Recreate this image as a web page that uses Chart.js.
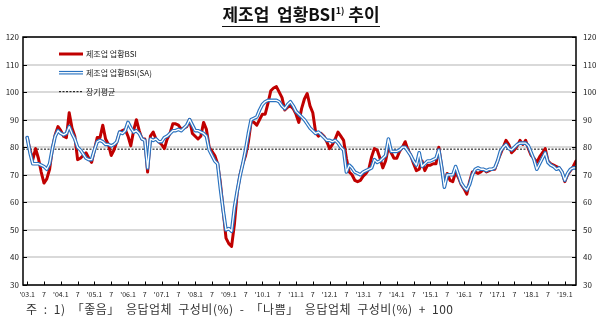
<!DOCTYPE html>
<html>
<head>
<meta charset="utf-8">
<script src="https://cdn.jsdelivr.net/npm/chart.js@4.4.1/dist/chart.umd.min.js"></script>
<style>
  body { margin: 0; background: #fff; }
  #wrap { position: relative; width: 602px; height: 322px; }
  #title { position: absolute; left: 0; top: 1px; width: 602px; text-align: center;
           font: bold 17px 'Noto Sans CJK KR'; color: #111; }
  #title span { border-bottom: 1.5px solid #111; padding-bottom: 0; }
  #title sup { font-size: 9px; }
  #note { position: absolute; left: 26px; top: 300px; font: 12px 'Noto Sans CJK KR'; color: #333;
          word-spacing: 3px; letter-spacing: 0.5px; }
</style>
</head>
<body>
<div id="wrap">
  <canvas id="bsiChart" width="602" height="322"></canvas>
  <div id="title"><span>제조업&nbsp; 업황BSI<sup>1)</sup> 추이</span></div>
  <div id="note">주 : 1) 「좋음」 응답업체 구성비(%) - 「나쁨」 응답업체 구성비(%) + 100</div>
</div>
<script>
// monthly, 2003.1 ~ 2019.5
var bsi = [
  83.5, 79, 75.5, 79.5, 76, 71, 67, 68.5, 72, 79.5, 84.5, 87.5,      // 2003
  86, 84, 83.5, 92.5, 87, 84, 75.5, 76, 77, 78, 76, 74.5,            // 2004
  79, 83.5, 83.5, 88, 83, 81, 77, 79, 82, 85.5, 86, 86.5,            // 2005
  84, 80.5, 86, 90, 86, 83, 83, 71, 84, 85.5, 83, 82,                // 2006
  81, 79.5, 83, 85, 88.5, 88.5, 88, 86.5, 87, 87.5, 90, 85,          // 2007
  84, 83, 84, 89, 86.5, 80, 78.5, 77, 74, 67, 57, 47,                // 2008
  45, 44, 52, 63.5, 70, 74, 77, 82, 89.5, 89, 88, 90,                // 2009
  92, 92, 96, 100.5, 101.5, 102, 100, 98, 93.5, 94.5, 95, 94,        // 2010
  92, 89, 94, 97.5, 99.5, 95, 92.5, 85.5, 84, 85, 84, 82,            // 2011
  79.5, 81, 83, 85.5, 84, 82.5, 76, 71, 70, 68, 67.5, 68,            // 2012
  69.5, 70.5, 72, 76.5, 79.5, 79, 76, 72.5, 75, 80, 78, 76,          // 2013
  76, 78.5, 80, 82, 79, 77, 74, 71.5, 72, 75, 71.5, 73.5,            // 2014
  73.5, 74, 74, 80, 73, 66, 70.5, 68, 67.5, 71, 69, 66.5,            // 2015
  65, 63, 67.5, 71, 71, 70.5, 71, 72, 71, 71.5, 72, 72,              // 2016
  75, 77.5, 80, 82.5, 81, 78, 79, 80.5, 82.5, 81, 82.5, 79.5,        // 2017
  77, 76, 74.5, 76.5, 78, 79.5, 75, 74, 73.5, 73, 72.5, 71,          // 2018
  67.5, 70, 71.5, 73, 75                                             // 2019
];

// seasonally adjusted
var bsiSA = [
  83.5, 78, 74, 74, 74, 73.5, 73, 72, 74, 79.5, 84, 86,
  85, 84.5, 85, 87.5, 85, 83, 80, 79, 77.5, 76, 75.5, 75.5,
  79, 82, 82.5, 82, 81, 81, 80.5, 81, 82, 85.5, 85, 86,
  89, 87, 85.5, 86, 85, 83, 82.5, 72.5, 83, 82.5, 83, 82,
  82, 83.5, 84, 85, 86, 86, 86.5, 86, 87, 88, 90, 88,
  86, 86, 85.5, 85, 84, 79, 77, 75, 74, 65, 57, 50,
  50.5, 49.5, 58, 64, 69.5, 74, 79, 85, 90, 90.5, 91, 93.5,
  95.5, 96.5, 97, 97, 97, 97, 96.5, 95, 94, 95.5, 96.5, 95,
  93, 92, 91, 90, 88.5, 87, 86, 85, 85.5, 84.5, 83.5, 82.5,
  82.5, 82, 82.5, 81.5, 80, 79, 71, 73.5, 72.5, 71, 70.5, 70,
  71, 71.5, 72, 72.5, 75.5, 74.5, 75, 76, 77, 83, 78.5, 78.5,
  78.5, 79, 80, 80, 78.5, 77, 75, 73.5, 78, 73, 74, 75,
  75, 75.5, 76, 79, 73, 65.5, 70, 70, 70, 73, 70, 67,
  65.5, 64.5, 66.5, 70, 72, 72.5, 72, 72, 71.5, 72, 72, 72.5,
  75, 78.5, 80, 81, 79.5, 79, 80, 81, 81.5, 81.5, 81.5, 80.5,
  78, 75.5, 72, 74, 76, 78, 74.5, 73.5, 73, 72, 72.5, 71,
  68, 70.5, 72, 72.5, 72.5
];

var longTermAvg = 79.3;

// every 6 months from 2003.1
var xTickLabels = [
  "'03.1", "7", "'04.1", "7", "'05.1", "7", "'06.1", "7", "'07.1", "7", "'08.1", "7",
  "'09.1", "7", "'10.1", "7", "'11.1", "7", "'12.1", "7", "'13.1", "7", "'14.1", "7",
  "'15.1", "7", "'16.1", "7", "'17.1", "7", "'18.1", "7", "'19.1"
];
var yTicks = [30, 40, 50, 60, 70, 80, 90, 100, 110, 120];

var legendItems = ['제조업 업황BSI', '제조업 업황BSI(SA)', '장기평균'];

var RED = '#c00000', BLUE = '#2a73c0';
var tickFont = { family: "'Noto Sans CJK KR'", size: 8 };

function pts(arr) {
  return arr.map(function(v, i) { return { x: i, y: v }; });
}

// frame, inward ticks, average line and legend
var decor = {
  id: 'decor',
  beforeDatasetsDraw: function(chart) {
    var c = chart.ctx, a = chart.chartArea, y = chart.scales.y;
    var py = y.getPixelForValue(longTermAvg);
    c.save();
    c.strokeStyle = '#000';
    c.lineWidth = 1;
    c.setLineDash([2, 1.5]);
    c.beginPath();
    c.moveTo(a.left, py);
    c.lineTo(a.right, py);
    c.stroke();
    c.restore();
  },
  afterDraw: function(chart) {
    var c = chart.ctx, a = chart.chartArea, y = chart.scales.y, x = chart.scales.x;
    c.save();
    c.strokeStyle = '#000';
    c.lineWidth = 1.5;
    c.strokeRect(a.left, a.top, a.right - a.left, a.bottom - a.top);
    c.lineWidth = 1;
    c.beginPath();
    yTicks.forEach(function(v) {
      var py = Math.round(y.getPixelForValue(v)) + 0.5;
      c.moveTo(a.left, py); c.lineTo(a.left + 4, py);
      c.moveTo(a.right - 4, py); c.lineTo(a.right, py);
    });
    xTickLabels.forEach(function(l, k) {
      var px = Math.round(x.getPixelForValue(k * 6)) + 0.5;
      c.moveTo(px, a.bottom); c.lineTo(px, a.bottom - 3.5);
    });
    c.stroke();

    // legend
    var lx0 = 59, lx1 = 83, tx = 86;
    var rows = [54, 72.7, 91.7];
    c.setLineDash([]);
    c.lineWidth = 3; c.strokeStyle = RED;
    c.beginPath(); c.moveTo(lx0, rows[0]); c.lineTo(lx1, rows[0]); c.stroke();
    c.lineWidth = 3.6; c.strokeStyle = BLUE;
    c.beginPath(); c.moveTo(lx0, rows[1]); c.lineTo(lx1, rows[1]); c.stroke();
    c.lineWidth = 1.3; c.strokeStyle = '#fff';
    c.beginPath(); c.moveTo(lx0, rows[1]); c.lineTo(lx1, rows[1]); c.stroke();
    c.lineWidth = 1; c.strokeStyle = '#000'; c.setLineDash([2, 1.5]);
    c.beginPath(); c.moveTo(lx0, rows[2]); c.lineTo(lx1, rows[2]); c.stroke();
    c.fillStyle = '#222';
    c.font = "8px 'Noto Sans CJK KR'";
    c.textBaseline = 'middle';
    legendItems.forEach(function(t, k) { c.fillText(t, tx, rows[k]); });
    c.restore();
  }
};

var ctx = document.getElementById('bsiChart').getContext('2d');
var chart = new Chart(ctx, {
  type: 'line',
  data: {
    datasets: [
      { data: pts(bsiSA), borderColor: '#fff', borderWidth: 1.3, order: 0 },
      { data: pts(bsiSA), borderColor: BLUE, borderWidth: 3.6, order: 1 },
      { data: pts(bsi), borderColor: RED, borderWidth: 3, order: 2 }
    ]
  },
  options: {
    responsive: false,
    animation: false,
    devicePixelRatio: 1,
    layout: { padding: { top: 37, bottom: 23, left: 0, right: 0 } },
    elements: { point: { radius: 0 }, line: { tension: 0, borderJoinStyle: 'round', borderCapStyle: 'round' } },
    plugins: { legend: { display: false }, tooltip: { enabled: false } },
    scales: {
      x: {
        type: 'linear', min: -1.5, max: 196,
        afterBuildTicks: function(s) {
          s.ticks = xTickLabels.map(function(l, k) { return { value: k * 6 }; });
        },
        afterFit: function(s) { s.height = 14; },
        ticks: {
          autoSkip: false, maxRotation: 0, padding: 5, color: '#222',
          font: { family: "'Noto Sans CJK KR'", size: 7 },
          callback: function(v) { return xTickLabels[v / 6]; }
        },
        grid: { display: false, drawTicks: false },
        border: { display: false }
      },
      y: {
        position: 'left', min: 30, max: 120,
        afterFit: function(s) { s.width = 23; },
        ticks: { stepSize: 10, padding: 4, color: '#222', font: tickFont },
        grid: { color: '#d9d9d9', lineWidth: 2, drawTicks: false },
        border: { display: false }
      },
      y2: {
        position: 'right', min: 30, max: 120,
        afterFit: function(s) { s.width = 26; },
        ticks: { stepSize: 10, padding: 7, color: '#222', font: tickFont },
        grid: { display: false, drawTicks: false },
        border: { display: false }
      }
    }
  },
  plugins: [decor]
});
</script>
</body>
</html>
